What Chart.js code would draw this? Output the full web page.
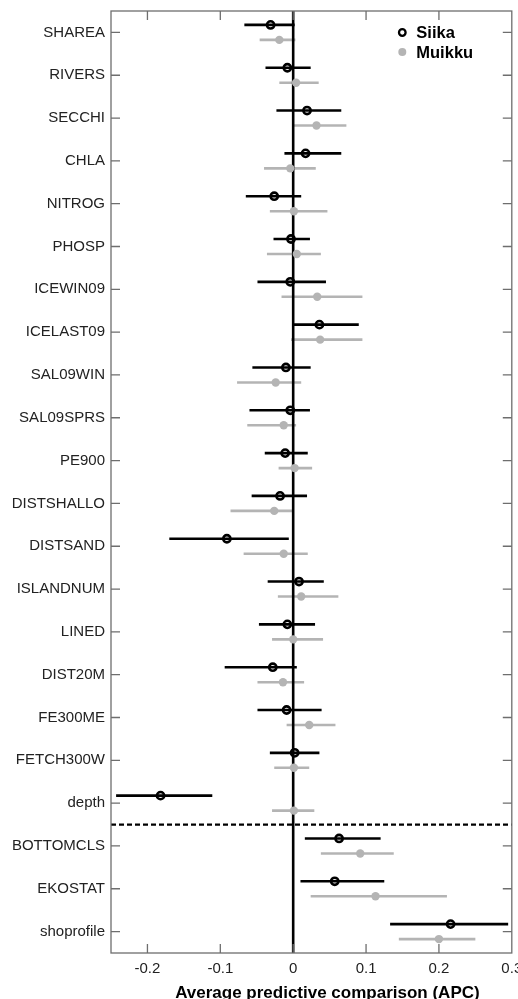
<!DOCTYPE html>
<html><head><meta charset="utf-8">
<script src="https://cdn.jsdelivr.net/npm/chart.js@4.4.1/dist/chart.umd.min.js"></script>
<style>html,body{margin:0;padding:0;background:#fff;}canvas{display:block;}</style>
</head><body>
<canvas id="c" width="518" height="999"></canvas>
<script>
const categories = ['SHAREA','RIVERS','SECCHI','CHLA','NITROG','PHOSP','ICEWIN09','ICELAST09','SAL09WIN','SAL09SPRS','PE900','DISTSHALLO','DISTSAND','ISLANDNUM','LINED','DIST20M','FE300ME','FETCH300W','depth','BOTTOMCLS','EKOSTAT','shoprofile'];
const xTickValues = [-0.2, -0.1, 0, 0.1, 0.2, 0.3];
const xTickLabels = ['-0.2', '-0.1', '0', '0.1', '0.2', '0.3'];
const seriesNames = ['Siika', 'Muikku'];
const xTitle = 'Average predictive comparison (APC)';

const siikaMean = [-0.031,-0.008,0.019,0.017,-0.026,-0.003,-0.004,0.036,-0.010,-0.004,-0.011,-0.018,-0.091,0.008,-0.008,-0.028,-0.009,0.002,-0.182,0.063,0.057,0.216];
const siikaLow  = [-0.067,-0.038,-0.023,-0.012,-0.065,-0.027,-0.049,0.001,-0.056,-0.060,-0.039,-0.057,-0.170,-0.035,-0.047,-0.094,-0.049,-0.032,-0.243,0.016,0.010,0.133];
const siikaHigh = [0.002,0.024,0.066,0.066,0.011,0.023,0.045,0.090,0.024,0.023,0.020,0.019,-0.006,0.042,0.030,0.005,0.039,0.036,-0.111,0.120,0.125,0.295];

const muikkuMean = [-0.019,0.004,0.032,-0.004,0.001,0.005,0.033,0.037,-0.024,-0.013,0.002,-0.026,-0.013,0.011,0.000,-0.014,0.022,0.001,0.001,0.092,0.113,0.200];
const muikkuLow  = [-0.046,-0.019,0.000,-0.040,-0.032,-0.036,-0.016,-0.003,-0.077,-0.063,-0.020,-0.086,-0.068,-0.021,-0.029,-0.049,-0.009,-0.026,-0.029,0.038,0.024,0.145];
const muikkuHigh = [0.003,0.035,0.073,0.031,0.047,0.038,0.095,0.095,0.011,0.004,0.026,0.001,0.020,0.062,0.041,0.015,0.058,0.022,0.029,0.138,0.211,0.250];

const SIIKA_OFFSET = -0.175, MUIKKU_OFFSET = 0.175;
const GREY = '#b4b4b4';
const FRAME = '#6e6e6e';
const DIVIDER_AT = 18.5;

function pts(mean, off){ return mean.map((m,i)=>({x:m, y:i+off})); }

const errorBarPlugin = {
  id:'errorBars',
  beforeDatasetsDraw(chart){
    const {ctx, chartArea:a, scales:{x,y}} = chart;
    ctx.save();
    [1,0].forEach(di=>{
      const ds = chart.data.datasets[di];
      ctx.strokeStyle = ds.barColor; ctx.lineWidth = 2.6; ctx.lineCap='butt';
      ds.low.forEach((lo,i)=>{
        const py = y.getPixelForValue(i + ds.offset);
        ctx.beginPath();
        ctx.moveTo(x.getPixelForValue(lo), py);
        ctx.lineTo(x.getPixelForValue(ds.high[i]), py);
        ctx.stroke();
      });
    });
    const x0 = x.getPixelForValue(0);
    ctx.strokeStyle='#000'; ctx.lineWidth=2.6;
    ctx.beginPath(); ctx.moveTo(x0,a.top); ctx.lineTo(x0,a.bottom); ctx.stroke();
    const yd = y.getPixelForValue(DIVIDER_AT);
    ctx.lineWidth=2.2; ctx.setLineDash([5,3]);
    ctx.beginPath(); ctx.moveTo(a.left,yd); ctx.lineTo(a.right,yd); ctx.stroke();
    ctx.setLineDash([]);
    ctx.restore();
  },
  afterDraw(chart){
    const {ctx, chartArea:a, scales:{x,y}} = chart;
    ctx.save();
    ctx.strokeStyle=FRAME; ctx.lineWidth=1.3;
    ctx.strokeRect(a.left, a.top, a.right-a.left, a.bottom-a.top);
    const TL = 9;
    ctx.beginPath();
    xTickValues.forEach(v=>{
      const px = x.getPixelForValue(v);
      if (px >= a.right - 1) return;
      ctx.moveTo(px,a.bottom); ctx.lineTo(px,a.bottom-TL);
      ctx.moveTo(px,a.top); ctx.lineTo(px,a.top+TL);
    });
    categories.forEach((c,i)=>{
      const py = y.getPixelForValue(i);
      ctx.moveTo(a.left,py); ctx.lineTo(a.left+TL,py);
      ctx.moveTo(a.right,py); ctx.lineTo(a.right-TL,py);
    });
    ctx.stroke();
    const lx = a.right - 109.5, tx = a.right - 95.5;
    ctx.font = 'bold 16.5px "Liberation Sans", Arial, sans-serif';
    ctx.textBaseline='middle'; ctx.textAlign='left'; ctx.fillStyle='#000';
    ctx.beginPath(); ctx.arc(lx, a.top+21.5, 3.3, 0, Math.PI*2);
    ctx.strokeStyle='#000'; ctx.lineWidth=2.3; ctx.stroke();
    ctx.fillText(seriesNames[0], tx, a.top+22.5);
    ctx.beginPath(); ctx.arc(lx, a.top+41, 4, 0, Math.PI*2);
    ctx.fillStyle=GREY; ctx.fill();
    ctx.fillStyle='#000';
    ctx.fillText(seriesNames[1], tx, a.top+42.5);
    ctx.font = 'bold 17px "Liberation Sans", Arial, sans-serif';
    ctx.textAlign='center'; ctx.textBaseline='alphabetic';
    ctx.fillText(xTitle, (a.left+a.right)/2 + 16, chart.height - 0.8);
    ctx.restore();
  }
};

new Chart(document.getElementById('c'), {
  type:'scatter',
  data:{ datasets:[
    { label:seriesNames[0], data:pts(siikaMean,SIIKA_OFFSET), low:siikaLow, high:siikaHigh, offset:SIIKA_OFFSET, barColor:'#000',
      pointRadius:3.6, pointHoverRadius:3.6, pointBorderWidth:2.6, pointBorderColor:'#000', pointBackgroundColor:'rgba(0,0,0,0)', order:0 },
    { label:seriesNames[1], data:pts(muikkuMean,MUIKKU_OFFSET), low:muikkuLow, high:muikkuHigh, offset:MUIKKU_OFFSET, barColor:GREY,
      pointRadius:4.2, pointHoverRadius:4.2, pointBorderWidth:0, pointBackgroundColor:GREY, pointBorderColor:GREY, order:1 }
  ]},
  options:{
    responsive:false, animation:false, devicePixelRatio:1,
    layout:{ padding:{ top:11, right:6, left:0, bottom:0 } },
    plugins:{ legend:{display:false}, tooltip:{enabled:false} },
    scales:{
      x:{ type:'linear', min:-0.25, max:0.3, position:'bottom',
        grid:{display:false, drawTicks:false}, border:{display:false},
        afterBuildTicks:s=>{ s.ticks = xTickValues.map(v=>({value:v})); },
        ticks:{ callback:(v,i)=>xTickLabels[i], autoSkip:false, maxRotation:0,
          font:{family:'"Liberation Sans", Arial, sans-serif', size:15}, color:'#222', padding:7 },
        afterFit:s=>{ s.height = 46; s.paddingLeft = 0; s.paddingRight = 0; }
      },
      y:{ type:'linear', min:-0.5, max:21.5, reverse:true,
        grid:{display:false, drawTicks:false}, border:{display:false},
        afterBuildTicks:s=>{ s.ticks = categories.map((c,i)=>({value:i})); },
        ticks:{ callback:(v,i)=>categories[i], autoSkip:false,
          font:{family:'"Liberation Sans", Arial, sans-serif', size:15}, color:'#222', padding:6 },
        afterFit:s=>{ s.width = 111; s.paddingTop = 0; s.paddingBottom = 0; }
      }
    }
  },
  plugins:[errorBarPlugin]
});
</script>
</body></html>
